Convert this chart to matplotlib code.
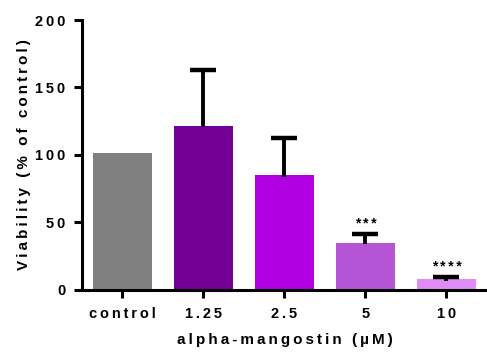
import numpy as np
import matplotlib.pyplot as plt

plt.rcParams['font.family'] = ['Liberation Sans', 'DejaVu Sans']
plt.rcParams['font.weight'] = 'bold'

groups = ['control', '1.25', '2.5', '5', '10']
viability = [101.5, 121.7, 85.0, 35.0, 7.8]
sd_upper = [0.0, 41.5, 27.5, 6.5, 1.8]
stars = ['', '', '', '***', '****']
colors = ['#808080', '#730096', '#B000E2', '#B555D6', '#E08CF5']
yticks = [0, 50, 100, 150, 200]


def spaced(s):
    # prism-style letter spacing
    return '\u2009'.join(s)


fig = plt.figure(figsize=(4.87, 3.54), dpi=100)
ax = fig.add_axes([0.168, 0.181, 0.832, 0.7625])

x = np.arange(len(groups))
ax.bar(x, viability, width=0.72, color=colors, zorder=2)
for i in range(len(groups)):
    top = viability[i] + sd_upper[i]
    if sd_upper[i] > 0:
        # only the upper half of the error bar, as in prism
        ax.vlines(x[i], viability[i] - 1, top, color='black', linewidth=2.8, zorder=3)
        ax.plot(x[i], top, marker='_', markersize=19, mew=3.2, color='black', zorder=3)
    if stars[i]:
        ax.text(x[i], top + 2, spaced(stars[i]), ha='center', va='bottom',
                fontsize=10, fontweight='bold')

ax.set_xlim(-0.5, 4.5)
ax.set_ylim(0, 200)
ax.set_yticks(yticks)
ax.set_yticklabels([spaced(str(t)) for t in yticks])
ax.set_xticks(x)
ax.set_xticklabels([spaced(g) for g in groups])
plt.setp(ax.get_xticklabels() + ax.get_yticklabels(), fontsize=10.5, fontweight='heavy')

ax.spines['top'].set_visible(False)
ax.spines['right'].set_visible(False)
ax.spines['left'].set_linewidth(2.2)
ax.spines['bottom'].set_linewidth(2.2)
ax.tick_params(axis='both', direction='out', length=6, width=2.2, pad=6)

ax.set_ylabel(spaced('Viability (% of control)'), fontsize=11, fontweight='bold', labelpad=3)
ax.set_xlabel(spaced('alpha-mangostin (µM)'), fontsize=11, fontweight='bold', labelpad=9)

plt.savefig('out.png', dpi=100)
